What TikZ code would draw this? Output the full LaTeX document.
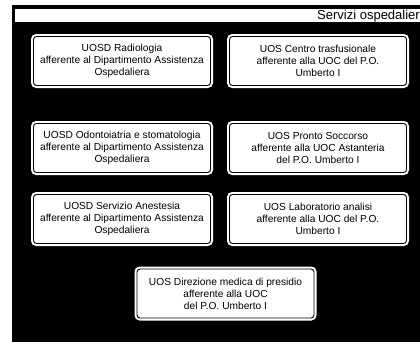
\documentclass[tikz,border=0pt]{standalone}
\usepackage{fontspec}
\setmainfont{Liberation Sans}
\begin{document}
\begin{tikzpicture}[x=1pt,y=-1pt,
  unitbox/.style={
    rectangle, rounded corners=3pt, fill=white, draw=black, line width=0.9pt,
    preaction={draw=white, line width=5pt},
    minimum width=177pt, minimum height=49pt, inner sep=0pt,
    align=center, font=\fontsize{10.2}{12}\selectfont},
  bandtext/.style={font=\fontsize{13}{14}\selectfont, inner sep=0pt, anchor=base east}
]
% page frame
\useasboundingbox (0,0) rectangle (420,343);
\fill[white] (0,0) rectangle (420,343);
% dark panel and its title strip
\fill[black] (12,5) rectangle (420,342);
\fill[white] (15,9) rectangle (420,22);
\node[bandtext] (title) at (420,19.5) {Servizi ospedalier};

% units
\node[unitbox] (radiologia) at (122,61)
  {UOSD Radiologia\\afferente al Dipartimento Assistenza\\Ospedaliera};
\node[unitbox] (trasfusionale) at (318,61)
  {UOS Centro trasfusionale\\afferente alla UOC del P.O.\\Umberto I};
\node[unitbox] (odontoiatria) at (122,148)
  {UOSD Odontoiatria e stomatologia\\afferente al Dipartimento Assistenza\\Ospedaliera};
\node[unitbox] (prontosoccorso) at (318,148)
  {UOS Pronto Soccorso\\afferente alla UOC Astanteria\\del P.O. Umberto I};
\node[unitbox] (anestesia) at (122,219)
  {UOSD Servizio Anestesia\\afferente al Dipartimento Assistenza\\Ospedaliera};
\node[unitbox] (laboratorio) at (318,219)
  {UOS Laboratorio analisi\\afferente alla UOC del P.O.\\Umberto I};
\node[unitbox] (direzione) at (225.5,293.5)
  {UOS Direzione medica di presidio\\afferente alla UOC\\del P.O. Umberto I};
\end{tikzpicture}
\end{document}
